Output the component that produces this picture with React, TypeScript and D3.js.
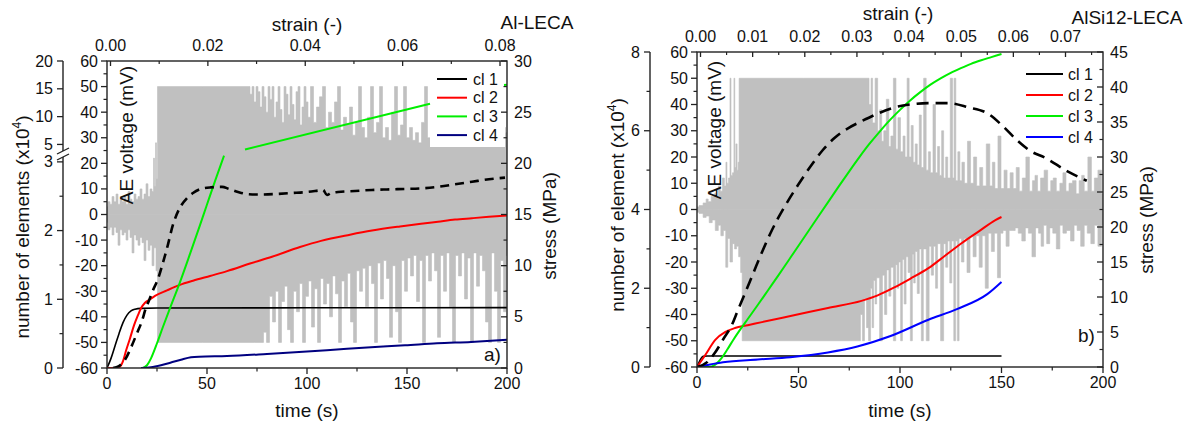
import React from "react";
import * as d3 from "d3";

const FONT = "'Liberation Sans', Arial, Helvetica, sans-serif";
const GRAY = "#c0c0c0";
const AXIS = "#222";

// ---------- shared tick values ----------
const timeTicks = [0, 50, 100, 150, 200];
const timeMinor = [25, 75, 125, 175];
const voltTicks = [-60, -50, -40, -30, -20, -10, 0, 10, 20, 30, 40, 50, 60];
const voltMinor = [-55, -45, -35, -25, -15, -5, 5, 15, 25, 35, 45, 55];

// ---------- panel a) Al-LECA ----------
const strainTicksA = [0, 0.02, 0.04, 0.06, 0.08];
const strainMinorA = [0.01, 0.03, 0.05, 0.07];
const stressTicksA = [0, 5, 10, 15, 20, 25, 30];
const stressMinorA = [2.5, 7.5, 12.5, 17.5, 22.5, 27.5];
const elemTicksA = [0, 1, 2, 3, 5, 10, 15, 20];
const elemMinorA = [0.5, 1.5, 2.5];

const cl1A = [[0, 0], [2, 0.14], [4, 0.32], [6, 0.5], [8, 0.66], [10, 0.77], [12, 0.83], [14, 0.855], [17, 0.868], [25, 0.873], [100, 0.876], [200, 0.878]];
const cl2A = [[0, 0], [4, 0], [6.5, 0.02], [8, 0.1], [9.5, 0.25], [11.5, 0.43], [13.5, 0.62], [15.5, 0.77], [17, 0.87], [19, 0.95], [21.5, 1.0], [24, 1.05], [30, 1.13], [36.5, 1.21], [43, 1.27], [51.5, 1.34], [60, 1.41], [71.5, 1.52], [82.5, 1.62], [96.5, 1.76], [107, 1.85], [121.5, 1.94], [132.5, 2.0], [146.5, 2.06], [157, 2.1], [165.5, 2.13], [174, 2.16], [182.5, 2.18], [191, 2.2], [200, 2.22]];
const cl3A = [[18, 0], [20, 0.04], [22, 0.14], [25, 0.36], [28, 0.6], [31.5, 0.87], [36.5, 1.25], [41.5, 1.66], [46.5, 2.08], [50, 2.38], [54, 2.72], [58.5, 3.09]];
const cl3AUpper = [[69, 4.1], [161.5, 12.3]];
const cl3AEnd = [[198.5, 15.7], [200, 15.75]];
const cl4A = [[17, 0], [22, 0.01], [27, 0.04], [32, 0.08], [37, 0.12], [42, 0.155], [46, 0.165], [60, 0.175], [80, 0.205], [100, 0.24], [115, 0.27], [130, 0.3], [149, 0.33], [165, 0.36], [182, 0.38], [200, 0.41]];
const stressA = [[3, 0], [6, 0.2], [9, 0.8], [12, 2.0], [15, 3.4], [17.5, 4.6], [19.5, 5.9], [21, 6.6], [23, 7.6], [25.5, 8.7], [28, 10.3], [30, 11.7], [33, 14.0], [36, 15.5], [40, 16.6], [43, 17.1], [47, 17.5], [52, 17.65], [57.5, 17.7], [61, 17.5], [65.5, 17.2], [70, 17.0], [75.5, 16.95], [84, 17.0], [92.5, 17.1], [100, 17.2], [106, 17.35], [108, 17.4], [110, 16.9], [112, 17.1], [115.5, 17.2], [124, 17.3], [132.5, 17.4], [140, 17.45], [149, 17.5], [157, 17.55], [165.5, 17.7], [174, 17.95], [182.5, 18.2], [191, 18.45], [199, 18.6]];

// AE voltage, upper and lower envelope of the recorded signal [t, mV]
const aeUpperA = [[0, 3], [1, 5], [2, 4], [3, 7], [4, 5], [5, 8], [6, 4], [7, 6], [8, 5], [9, 7], [10, 4], [11, 9], [12, 6], [13, 5], [14, 8], [15, 6], [16, 7], [17, 10], [18, 6], [19, 8], [20, 12], [21, 7], [22, 10], [23, 9], [23.5, 22], [24, 11], [24.5, 28], [25, 14], [25.5, 50],
  [70, 50], [71, 50], [72, 47], [73, 50], [74, 44], [75, 50], [76, 48], [77, 42], [78, 50], [79, 46], [80, 40], [81, 50], [82, 45], [83, 50], [84, 38], [85, 44], [86, 50], [87, 41], [88, 36], [89, 50], [90, 47], [91, 39], [92, 50], [93, 43], [94, 37], [95, 48], [96, 50], [97, 35], [98, 42], [99, 50], [100, 44],
  [101, 38], [102.5, 50], [104, 36], [105.5, 42], [107, 46], [108.5, 50], [110, 34], [111.5, 40], [113, 36], [114.5, 44], [116, 50], [117.5, 33], [119, 38], [120.5, 35], [122, 42], [123.5, 31], [125, 36], [126.5, 50], [128, 34], [129.5, 30], [131, 38], [132.5, 50], [134, 32], [135.5, 36], [137, 50], [138.5, 30], [140, 34], [141.5, 29], [143, 40], [144.5, 50], [146, 31], [147.5, 35], [149, 50], [150.5, 30], [152, 34], [153.5, 29], [155, 32], [156.5, 28], [158, 36], [159.5, 50], [161, 30], [162.5, 33], [164, 29], [165.5, 35], [167, 30], [168.5, 33], [170, 30], [171.5, 36], [173, 31], [174.5, 34], [176, 29], [177.5, 33], [179, 30], [180.5, 36], [182, 31], [183.5, 34], [185, 30], [186.5, 33], [188, 29], [189.5, 35], [191, 31], [192.5, 34], [194, 30], [195.5, 33], [197, 31], [198.5, 34], [200, 32]];
const aeLowerA = [[0, -3], [1, -6], [2, -5], [3, -8], [4, -5], [5, -7], [6, -12], [7, -6], [8, -8], [9, -7], [10, -10], [11, -6], [12, -9], [13, -15], [14, -8], [15, -10], [16, -12], [17, -9], [18, -11], [19, -18], [20, -10], [21, -14], [22, -12], [23, -20], [24, -13], [25, -22], [25.5, -50],
  [70, -50], [77.5, -50], [79, -46], [80.5, -50], [82, -32], [83.5, -42], [85, -30], [86.5, -50], [88, -34], [89.5, -28], [91, -45], [92.5, -50], [94, -30], [95.5, -38], [97, -27], [98.5, -50], [100, -32], [101.5, -26], [103, -44], [104.5, -29], [106, -50], [107.5, -25], [109, -35], [110.5, -27], [112, -40], [113.5, -24], [115, -31], [116.5, -50], [118, -26], [119.5, -36], [121, -23], [122.5, -42], [124, -50], [125.5, -22], [127, -30], [128.5, -21], [130, -36], [131.5, -20], [133, -27], [134.5, -50], [136, -19], [137.5, -33], [139, -18], [140.5, -25], [142, -48], [143.5, -20], [145, -38], [146.5, -50], [148, -18], [149.5, -30], [151, -17], [152.5, -24], [154, -16], [155.5, -34], [157, -18], [158.5, -50], [160, -16], [161.5, -26], [163, -15], [164.5, -22], [166, -48], [167.5, -16], [169, -30], [170.5, -15], [172, -36], [173.5, -50], [175, -16], [176.5, -24], [178, -15], [179.5, -33], [181, -17], [182.5, -50], [184, -15], [185.5, -28], [187, -16], [188.5, -22], [190, -42], [191.5, -50], [193, -15], [194.5, -30], [196, -50], [197.5, -18], [199, -38], [200, -16]];

// ---------- panel b) AlSi12-LECA ----------
const strainTicksB = [0, 0.01, 0.02, 0.03, 0.04, 0.05, 0.06, 0.07];
const strainMinorB = [0.005, 0.015, 0.025, 0.035, 0.045, 0.055, 0.065, 0.075];
const stressTicksB = [0, 5, 10, 15, 20, 25, 30, 35, 40, 45];
const stressMinorB = [2.5, 7.5, 12.5, 17.5, 22.5, 27.5, 32.5, 37.5, 42.5];
const elemTicksB = [0, 2, 4, 6, 8];
const elemMinorB = [1, 3, 5, 7];

const cl1B = [[0, 0], [1, 0.12], [2, 0.22], [3, 0.27], [5, 0.28], [150, 0.28]];
const cl2B = [[0, 0], [4, 0.3], [9, 0.69], [14, 0.89], [18.7, 0.99], [25, 1.06], [32, 1.14], [48.3, 1.32], [64.5, 1.5], [81, 1.68], [89, 1.82], [97.5, 2.03], [105, 2.24], [114, 2.51], [122, 2.82], [130.5, 3.15], [139, 3.45], [147, 3.73], [150, 3.81]];
const cl3B = [[0, 0], [6, 0], [9, 0.06], [12, 0.22], [15, 0.45], [18, 0.7], [21, 0.93], [25, 1.22], [30, 1.58], [35, 1.95], [40, 2.32], [45, 2.7], [50, 3.08], [55, 3.46], [60, 3.84], [65, 4.22], [70, 4.6], [75, 4.97], [80, 5.33], [85, 5.67], [90, 5.98], [95, 6.27], [100, 6.53], [105, 6.77], [110, 6.98], [115, 7.17], [120, 7.33], [125, 7.47], [130, 7.59], [135, 7.7], [140, 7.79], [145, 7.87], [150, 7.95]];
const cl4B = [[0, 0], [5, 0.05], [12.8, 0.12], [30, 0.19], [46, 0.25], [64.5, 0.37], [79, 0.52], [95, 0.78], [114, 1.2], [128, 1.47], [143, 1.85], [150, 2.16]];
const stressB = [[0, 0], [5, 0.7], [9, 2.1], [13, 4.0], [17, 5.9], [20, 8.0], [23.6, 10.5], [28, 13.6], [32, 16.4], [36, 19.0], [40, 21.3], [45, 23.8], [50, 26.1], [56.5, 28.9], [62, 31.0], [68, 32.8], [75, 34.2], [81, 35.1], [89, 36.2], [97.5, 37.1], [105, 37.5], [113.8, 37.7], [123.6, 37.7], [133.5, 37.1], [143.3, 36.2], [150, 34.6], [158, 32.3], [164, 30.9], [171.4, 29.9], [182.8, 27.9], [192, 26.6]];

const aeUpperB = [[0, 1], [2, 1.5], [4, 2.5], [5, 4], [6, 3], [8, 5], [9, 6], [10, 5], [11, 9], [12, 7], [13, 12], [14, 9], [14.5, 18], [15, 10], [16, 12], [16.5, 50], [17, 13], [18, 14], [18.4, 50], [18.8, 16], [19.5, 25], [20, 15], [20.5, 18], [21, 50],
  [84, 50], [85.5, 40], [86, 50], [87, 33], [88.5, 50], [89.5, 30], [90.5, 38], [91.5, 26], [92.5, 30], [94, 42], [95, 24], [96, 28], [97.5, 50], [98.5, 23], [99.5, 35], [101, 22], [102, 28], [103, 20], [104, 50], [105, 20], [106, 32], [107, 18], [108, 25], [109, 17], [110, 36], [111, 16], [112.3, 50], [113.5, 15], [114.5, 22], [115.5, 14], [117, 40], [118, 14], [119, 24], [120, 13], [121, 30], [122, 12], [123, 20], [124, 12], [125.5, 50], [126.3, 12], [127, 50], [128, 11], [129, 22], [130, 11], [131, 18], [132.5, 10], [134, 26], [135.5, 10], [137, 20], [138.5, 9], [140, 16], [141.5, 9], [143.5, 25], [145, 9], [146, 18], [147.5, 8], [149, 28], [150.5, 8], [152, 15], [153.5, 8], [155, 14], [156.5, 8], [158, 16], [159.5, 7], [161, 12], [163, 20], [164.5, 7], [166, 11], [167, 13], [168.5, 7], [170, 12], [172, 15], [173.5, 7], [175, 11], [176, 12], [178, 7], [179.5, 10], [181, 14], [182.5, 7], [184, 10], [186, 11], [187.5, 6], [189, 11], [190, 13], [191.5, 7], [193.6, 20], [195, 7], [196.5, 12], [198.5, 15], [200, 6]];
const aeLowerB = [[0, -1], [2, -1.5], [4, -3], [5, -2.5], [7, -5], [8, -4], [10, -8], [11, -6], [12.5, -10], [13.5, -8], [14.8, -22], [15.5, -11], [17, -20], [18, -13], [19, -15], [20, -14], [21, -18], [22, -24], [22.5, -50],
  [80, -50], [81, -40], [82, -50], [83, -34], [84, -45], [85, -50], [86, -30], [86.5, -45], [87.5, -27], [88, -36], [89, -26], [90.9, -50], [91.8, -25], [93, -40], [94, -23], [95, -33], [96, -22], [97.5, -50], [98.3, -21], [99, -30], [99.8, -20], [100.8, -50], [101.6, -19], [102.5, -36], [103.5, -18], [104.5, -24], [105.7, -50], [106.5, -17], [107, -28], [108, -16], [109, -32], [110, -15], [111, -50], [112, -15], [113.9, -50], [114.8, -14], [116, -25], [117, -14], [118, -30], [119, -13], [121, -50], [122, -13], [123, -22], [124, -12], [125, -28], [126, -12], [127, -50], [127.8, -12], [128.7, -50], [129.5, -11], [131, -20], [132, -11], [134, -24], [135, -10], [137, -18], [138, -10], [140, -22], [141, -10], [143, -30], [144, -9], [146, -16], [147, -9], [149, -26], [150, -9], [151.5, -8], [153, -14], [154.5, -8], [156, -8], [157.5, -7], [159, -9], [161, -12], [162.5, -7], [164, -9], [166, -18], [167.5, -7], [169, -9], [170, -14], [171.5, -6], [173, -13], [174.5, -7], [176, -9], [178, -15], [179.5, -6], [181, -9], [183, -8], [185, -12], [186.5, -6], [188, -8], [190, -14], [191.5, -6], [193, -9], [195, -13], [196.5, -6], [198.5, -14], [200, -6]];

const legendLabels = ["cl 1", "cl 2", "cl 3", "cl 4"];

type Pt = number[];

function Panel(props: any) {
  const L = props.L;
  const x = d3.scaleLinear().domain([0, 200]).range([L.x0, L.x1]);
  const volt = d3.scaleLinear().domain([-60, 60]).range([L.y1, L.y0]);
  const stress = d3.scaleLinear().domain([0, L.stressMax]).range([L.y1, L.y0]);
  const elem = d3.scaleLinear().domain(L.elemDomain).range(L.elemRange);
  const strain = d3.scaleLinear().domain([0, L.strainRef]).range(L.strainRange);

  const lineE = d3.line<Pt>().x((d) => x(d[0])).y((d) => elem(d[1])).curve(d3.curveMonotoneX);
  const lineS = d3.line<Pt>().x((d) => x(d[0])).y((d) => stress(d[1])).curve(d3.curveMonotoneX);
  const area = d3.area<Pt>().x((d) => x(d[0])).y0(() => volt(0)).y1((d) => volt(d[1])).curve(d3.curveStep);

  const clipId = "clip" + L.id;
  const fs = 16;
  const tfs = 19;
  const mid = (L.x0 + L.x1) / 2;

  return (
    <g fontFamily={FONT} fill="#111">
      <defs>
        <clipPath id={clipId}>
          <rect x={L.x0} y={L.y0} width={L.x1 - L.x0} height={L.y1 - L.y0} />
        </clipPath>
      </defs>
      <g clipPath={`url(#${clipId})`}>
        <path d={area(L.upper) || ""} fill={GRAY} stroke={GRAY} strokeWidth={0.6} />
        <path d={area(L.lower) || ""} fill={GRAY} stroke={GRAY} strokeWidth={0.6} />
        <rect x={L.legBox[0]} y={L.legBox[1]} width={L.legBox[2]} height={L.legBox[3]} fill="#fff" />
        {L.curves.map((c: any, i: number) => (
          <path key={i} d={lineE(c.data) || ""} fill="none" stroke={c.color} strokeWidth={c.w} />
        ))}
        <path d={lineS(L.stress) || ""} fill="none" stroke="#000" strokeWidth={2.6} strokeDasharray={L.dash} />
      </g>

      {/* frame */}
      <rect x={L.x0} y={L.y0} width={L.x1 - L.x0} height={L.y1 - L.y0} fill="none" stroke={AXIS} strokeWidth={1.4} />

      {/* bottom time axis */}
      {timeTicks.map((t) => (
        <g key={"bt" + t}>
          <line x1={x(t)} x2={x(t)} y1={L.y1} y2={L.y1 + 6} stroke={AXIS} strokeWidth={1.3} />
          <text x={x(t)} y={L.y1 + 21} fontSize={fs} textAnchor="middle">{t}</text>
        </g>
      ))}
      {timeMinor.map((t) => (
        <line key={"bm" + t} x1={x(t)} x2={x(t)} y1={L.y1} y2={L.y1 + 3.5} stroke={AXIS} strokeWidth={1.2} />
      ))}
      <text x={mid} y={417} fontSize={tfs} textAnchor="middle">time (s)</text>

      {/* top strain axis */}
      {L.strainTicks.map((s: number) => (
        <g key={"st" + s}>
          <line x1={strain(s)} x2={strain(s)} y1={L.y0} y2={L.y0 + 5} stroke={AXIS} strokeWidth={1.3} />
          <text x={strain(s)} y={L.y0 - 10} fontSize={fs} textAnchor="middle">{s.toFixed(2)}</text>
        </g>
      ))}
      {L.strainMinor.map((s: number) => (
        <line key={"sm" + s} x1={strain(s)} x2={strain(s)} y1={L.y0} y2={L.y0 + 3} stroke={AXIS} strokeWidth={1.2} />
      ))}
      <text x={L.strainTitleX} y={L.strainTitleY} fontSize={tfs} textAnchor="middle">strain (-)</text>
      <text x={L.nameX} y={L.nameY} fontSize={tfs} textAnchor="middle">{L.name}</text>

      {/* left AE voltage axis */}
      {voltTicks.map((v) => (
        <g key={"vt" + v}>
          <line x1={L.x0 - 6} x2={L.x0} y1={volt(v)} y2={volt(v)} stroke={AXIS} strokeWidth={1.3} />
          <text x={L.x0 - 9} y={volt(v) + 5.5} fontSize={fs} textAnchor="end">{v}</text>
        </g>
      ))}
      {voltMinor.map((v) => (
        <line key={"vm" + v} x1={L.x0 - 3.5} x2={L.x0} y1={volt(v)} y2={volt(v)} stroke={AXIS} strokeWidth={1.2} />
      ))}
      <text transform={`translate(${L.aeX},${L.aeY}) rotate(-90)`} fontSize={tfs} textAnchor="middle">AE voltage (mV)</text>

      {/* right stress axis */}
      {L.stressTicks.map((s: number) => (
        <g key={"rt" + s}>
          <line x1={L.x1 - 6} x2={L.x1} y1={stress(s)} y2={stress(s)} stroke={AXIS} strokeWidth={1.3} />
          <text x={L.x1 + 7} y={stress(s) + 5.5} fontSize={fs} textAnchor="start">{s}</text>
        </g>
      ))}
      {L.stressMinor.map((s: number) => (
        <line key={"rm" + s} x1={L.x1 - 3.5} x2={L.x1} y1={stress(s)} y2={stress(s)} stroke={AXIS} strokeWidth={1.2} />
      ))}
      <text transform={`translate(${L.stressLabX},${L.stressLabY}) rotate(-90)`} fontSize={tfs} textAnchor="middle">stress (MPa)</text>

      {/* outer element-count axis */}
      {L.brk ? (
        <g>
          <line x1={L.outerX} x2={L.outerX} y1={L.y0} y2={L.brk[0]} stroke={AXIS} strokeWidth={1.4} />
          <line x1={L.outerX} x2={L.outerX} y1={L.brk[1]} y2={L.y1} stroke={AXIS} strokeWidth={1.4} />
          <line x1={L.outerX - 6} x2={L.outerX + 6} y1={L.brk[0] + 3} y2={L.brk[0] - 3} stroke={AXIS} strokeWidth={1.3} />
          <line x1={L.outerX - 6} x2={L.outerX + 6} y1={L.brk[1] + 3} y2={L.brk[1] - 3} stroke={AXIS} strokeWidth={1.3} />
        </g>
      ) : (
        <line x1={L.outerX} x2={L.outerX} y1={L.y0} y2={L.y1} stroke={AXIS} strokeWidth={1.4} />
      )}
      {L.elemTicks.map((v: number) => (
        <g key={"et" + v}>
          <line x1={L.outerX - 6} x2={L.outerX} y1={elem(v)} y2={elem(v)} stroke={AXIS} strokeWidth={1.3} />
          <text x={L.outerX - 10} y={elem(v) + 5.5} fontSize={fs} textAnchor="end">{v}</text>
        </g>
      ))}
      {L.elemMinor.map((v: number) => (
        <line key={"em" + v} x1={L.outerX - 3.5} x2={L.outerX} y1={elem(v)} y2={elem(v)} stroke={AXIS} strokeWidth={1.2} />
      ))}
      <text transform={`translate(${L.elemLabX},${L.elemLabY}) rotate(-90)`} fontSize={tfs} textAnchor="middle">
        {L.elemTitle}
        <tspan dy={-8} fontSize={12}>4</tspan>
        <tspan dy={8}>)</tspan>
      </text>

      {/* legend */}
      {L.curves.slice(0, 4).map((c: any, i: number) => (
        <g key={"lg" + i}>
          <line x1={L.leg[0]} x2={L.leg[1]} y1={L.leg[3] + i * L.leg[4]} y2={L.leg[3] + i * L.leg[4]} stroke={c.color} strokeWidth={2} />
          <text x={L.leg[2]} y={L.leg[3] + i * L.leg[4] + 5.5} fontSize={fs}>{legendLabels[i]}</text>
        </g>
      ))}

      <text x={L.tagX} y={L.tagY} fontSize={tfs}>{L.tag}</text>
    </g>
  );
}

export default function App() {
  const A = {
    id: "a",
    x0: 107, x1: 507, y0: 61, y1: 368,
    stressMax: 30, elemDomain: [0, 3.1, 20], elemRange: [368, 155, 61],
    strainRef: 0.08, strainRange: [110.5, 500],
    strainTicks: strainTicksA, strainMinor: strainMinorA,
    stressTicks: stressTicksA, stressMinor: stressMinorA,
    elemTicks: elemTicksA, elemMinor: elemMinorA,
    upper: aeUpperA, lower: aeLowerA,
    curves: [
      { data: cl1A, color: "#000000", w: 1.6 },
      { data: cl2A, color: "#ff0000", w: 2 },
      { data: cl3A, color: "#00ee00", w: 2 },
      { data: cl4A, color: "#000080", w: 2 },
      { data: cl3AUpper, color: "#00ee00", w: 2 },
      { data: cl3AEnd, color: "#00ee00", w: 2 },
    ],
    stress: stressA, dash: "9,6",
    legBox: [430, 62, 75, 85], leg: [437, 467, 473, 79, 18.7],
    outerX: 63, brk: [151, 157],
    elemTitle: "number of elements (x10",
    elemLabX: 29, elemLabY: 227, aeX: 133, aeY: 135, stressLabX: 556, stressLabY: 226,
    strainTitleX: 307, strainTitleY: 31, name: "Al-LECA", nameX: 537, nameY: 29,
    tag: "a)", tagX: 484, tagY: 361,
  };
  const B = {
    id: "b",
    x0: 697, x1: 1103, y0: 52, y1: 367,
    stressMax: 45, elemDomain: [0, 8], elemRange: [367, 52],
    strainRef: 0.07, strainRange: [700.5, 1065.5],
    strainTicks: strainTicksB, strainMinor: strainMinorB,
    stressTicks: stressTicksB, stressMinor: stressMinorB,
    elemTicks: elemTicksB, elemMinor: elemMinorB,
    upper: aeUpperB, lower: aeLowerB,
    curves: [
      { data: cl1B, color: "#000000", w: 1.6 },
      { data: cl2B, color: "#ff0000", w: 2 },
      { data: cl3B, color: "#00ee00", w: 2 },
      { data: cl4B, color: "#0000ff", w: 2 },
    ],
    stress: stressB, dash: "12,7",
    legBox: [1021, 53, 81, 93], leg: [1026, 1063, 1068, 74, 21],
    outerX: 650, brk: null,
    elemTitle: "number of element (x10",
    elemLabX: 624, elemLabY: 205, aeX: 721, aeY: 130, stressLabX: 1153, stressLabY: 220,
    strainTitleX: 898, strainTitleY: 20, name: "AlSi12-LECA", nameX: 1127, nameY: 24,
    tag: "b)", tagX: 1078, tagY: 342,
  };
  return (
    <svg width={1188} height={427} style={{ position: "absolute", left: 0, top: 0, background: "#fff" }}>
      <rect x={0} y={0} width={1188} height={427} fill="#fff" />
      <Panel L={A} />
      <Panel L={B} />
    </svg>
  );
}
